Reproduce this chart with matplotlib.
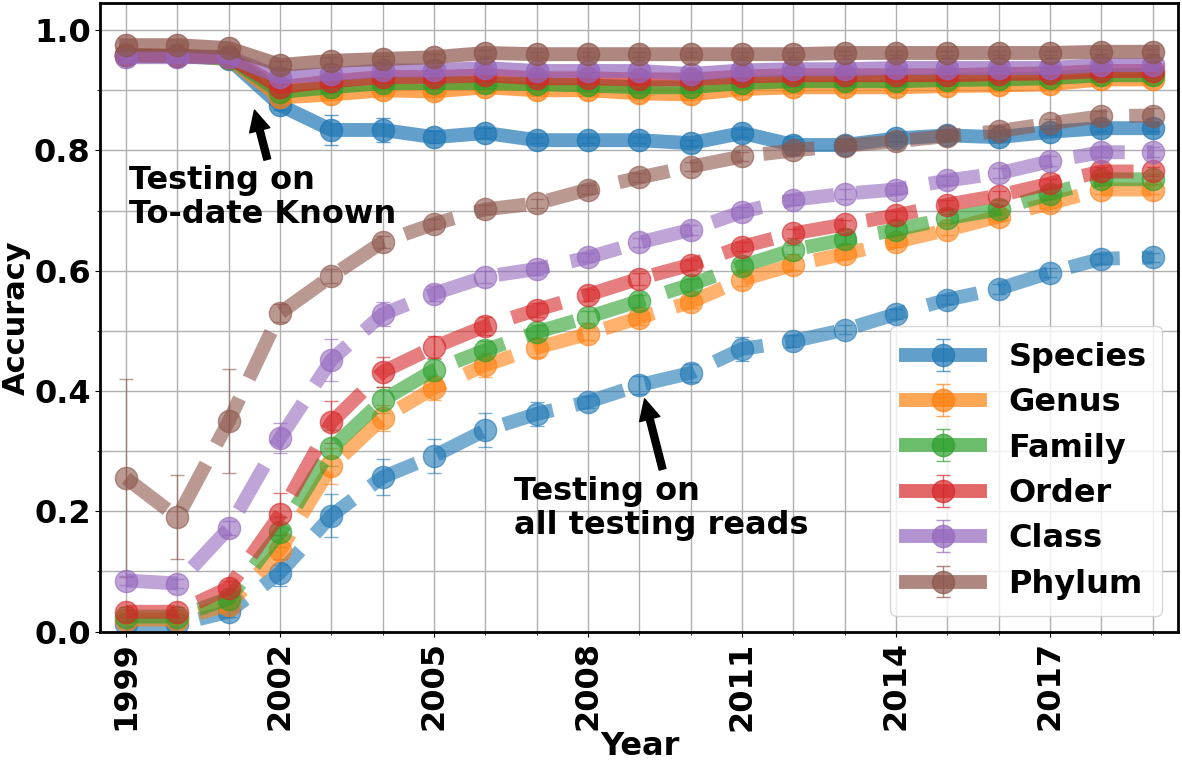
import numpy as np
import matplotlib
matplotlib.use('Agg')
import matplotlib.pyplot as plt

# Años y niveles taxonómicos
years = np.arange(1999, 2020)
ranks = ['Species', 'Genus', 'Family', 'Order', 'Class', 'Phylum']
colors = ['tab:blue', 'tab:orange', 'tab:green', 'tab:red', 'tab:purple', 'tab:brown']

# Testing on To-date Known (línea continua)
known_species = [0.958, 0.957, 0.952, 0.875, 0.834, 0.834, 0.822, 0.829, 0.817, 0.817, 0.817,
                 0.812, 0.829, 0.809, 0.809, 0.820, 0.825, 0.822, 0.831, 0.837, 0.837]
known_genus = [0.958, 0.957, 0.953, 0.888, 0.893, 0.900, 0.898, 0.905, 0.900, 0.900, 0.895,
               0.893, 0.902, 0.905, 0.905, 0.905, 0.907, 0.908, 0.910, 0.918, 0.918]
known_family = [0.958, 0.957, 0.954, 0.897, 0.905, 0.912, 0.912, 0.912, 0.910, 0.908, 0.905,
                0.905, 0.912, 0.915, 0.915, 0.915, 0.917, 0.918, 0.920, 0.925, 0.925]
known_order = [0.958, 0.957, 0.955, 0.905, 0.915, 0.922, 0.922, 0.925, 0.920, 0.920, 0.918,
               0.918, 0.923, 0.925, 0.925, 0.925, 0.925, 0.927, 0.928, 0.932, 0.932]
known_class = [0.955, 0.955, 0.955, 0.922, 0.927, 0.933, 0.933, 0.937, 0.932, 0.932, 0.932,
               0.927, 0.933, 0.935, 0.935, 0.937, 0.937, 0.937, 0.937, 0.942, 0.942]
known_phylum = [0.975, 0.975, 0.970, 0.942, 0.949, 0.952, 0.955, 0.962, 0.960, 0.960, 0.960,
                0.960, 0.960, 0.960, 0.962, 0.962, 0.962, 0.962, 0.962, 0.964, 0.964]

# Testing on all testing reads (línea discontinua)
all_species = [0.012, 0.012, 0.033, 0.098, 0.193, 0.257, 0.292, 0.335, 0.362, 0.382, 0.410,
               0.430, 0.470, 0.483, 0.502, 0.528, 0.552, 0.570, 0.597, 0.620, 0.622]
all_genus = [0.020, 0.020, 0.045, 0.135, 0.275, 0.355, 0.405, 0.443, 0.472, 0.495, 0.522,
             0.548, 0.585, 0.610, 0.628, 0.648, 0.668, 0.690, 0.712, 0.735, 0.735]
all_family = [0.025, 0.025, 0.055, 0.165, 0.305, 0.385, 0.435, 0.468, 0.498, 0.523, 0.550,
              0.577, 0.608, 0.635, 0.652, 0.668, 0.687, 0.702, 0.728, 0.752, 0.752]
all_order = [0.033, 0.033, 0.073, 0.195, 0.348, 0.432, 0.473, 0.508, 0.535, 0.560, 0.587,
             0.610, 0.640, 0.662, 0.677, 0.692, 0.710, 0.725, 0.745, 0.765, 0.765]
all_class = [0.085, 0.080, 0.172, 0.322, 0.452, 0.528, 0.562, 0.590, 0.603, 0.622, 0.647,
             0.668, 0.698, 0.718, 0.728, 0.735, 0.750, 0.762, 0.782, 0.797, 0.797]
all_phylum = [0.255, 0.190, 0.350, 0.530, 0.591, 0.648, 0.678, 0.702, 0.712, 0.735, 0.755,
              0.773, 0.790, 0.800, 0.808, 0.815, 0.824, 0.832, 0.845, 0.857, 0.858]

# Barras de error (desviación)
err_known_species = [0.002, 0.002, 0.003, 0.008, 0.025, 0.020, 0.010, 0.008, 0.005, 0.005, 0.005,
                     0.005, 0.006, 0.015, 0.005, 0.005, 0.005, 0.005, 0.005, 0.005, 0.005]
err_known_small = [0.002, 0.002, 0.003, 0.006, 0.006, 0.005, 0.005, 0.005, 0.004, 0.004, 0.004,
                   0.004, 0.004, 0.004, 0.004, 0.004, 0.004, 0.004, 0.004, 0.004, 0.004]
err_all_species = [0.005, 0.005, 0.008, 0.022, 0.035, 0.030, 0.028, 0.028, 0.020, 0.010, 0.015,
                   0.015, 0.020, 0.010, 0.008, 0.008, 0.008, 0.008, 0.008, 0.008, 0.008]
err_all_genus = [0.005, 0.005, 0.010, 0.025, 0.030, 0.022, 0.020, 0.020, 0.015, 0.010, 0.012,
                 0.010, 0.010, 0.008, 0.008, 0.008, 0.008, 0.008, 0.008, 0.008, 0.008]
err_all_family = [0.005, 0.005, 0.010, 0.025, 0.030, 0.022, 0.018, 0.015, 0.012, 0.010, 0.010,
                  0.010, 0.010, 0.008, 0.008, 0.008, 0.008, 0.008, 0.008, 0.008, 0.008]
err_all_order = [0.008, 0.008, 0.012, 0.035, 0.035, 0.025, 0.018, 0.015, 0.012, 0.010, 0.010,
                 0.008, 0.008, 0.008, 0.008, 0.008, 0.008, 0.008, 0.008, 0.008, 0.008]
err_all_class = [0.008, 0.008, 0.012, 0.025, 0.035, 0.020, 0.012, 0.010, 0.010, 0.008, 0.008,
                 0.008, 0.008, 0.008, 0.008, 0.008, 0.008, 0.008, 0.008, 0.008, 0.008]
err_all_phylum = [0.165, 0.070, 0.087, 0.015, 0.012, 0.010, 0.008, 0.008, 0.008, 0.008, 0.008,
                  0.008, 0.008, 0.008, 0.008, 0.008, 0.008, 0.008, 0.008, 0.008, 0.012]

known = [known_species, known_genus, known_family, known_order, known_class, known_phylum]
known_err = [err_known_species] + [err_known_small] * 5
todos = [all_species, all_genus, all_family, all_order, all_class, all_phylum]
todos_err = [err_all_species, err_all_genus, err_all_family, err_all_order, err_all_class, err_all_phylum]

plt.rcParams['font.weight'] = 'bold'
plt.rcParams['font.size'] = 23

fig, ax = plt.subplots(figsize=(11.82, 7.61), dpi=100)

for i, rank in enumerate(ranks):
    ax.errorbar(years, known[i], yerr=known_err[i], color=colors[i], linestyle='-',
                linewidth=10, marker='o', markersize=16, capsize=5, elinewidth=1,
                alpha=0.7, label=rank)
    ax.errorbar(years, todos[i], yerr=todos_err[i], color=colors[i], linestyle='--',
                linewidth=10, marker='o', markersize=16, capsize=5, elinewidth=1,
                alpha=0.6)

ax.annotate('', xy=(2001.5, 0.867), xytext=(2001.75, 0.785),
            arrowprops=dict(facecolor='black', edgecolor='black', width=5, headwidth=15, headlength=15))
ax.text(1999.05, 0.775, 'Testing on\nTo-date Known', fontsize=23, fontweight='bold',
        va='top', ha='left', linespacing=1.1)

ax.annotate('', xy=(2009.1, 0.387), xytext=(2009.45, 0.27),
            arrowprops=dict(facecolor='black', edgecolor='black', width=5, headwidth=15, headlength=15))
ax.text(2006.55, 0.258, 'Testing on\nall testing reads', fontsize=23, fontweight='bold',
        va='top', ha='left', linespacing=1.1)

ax.set_xlim(1998.5, 2019.5)
ax.set_ylim(0, 1.045)
ax.set_xticks(years[::3])
ax.set_xticks(years, minor=True)
ax.set_yticks(np.arange(0, 1.01, 0.2))
ax.set_yticks(np.arange(0.1, 1.0, 0.2), minor=True)
ax.grid(True, which='both', color='#b0b0b0', linewidth=1)
ax.set_axisbelow(True)
plt.setp(ax.get_xticklabels(), rotation=90)
ax.tick_params(axis='both', which='major', labelsize=23)
for s in ax.spines.values():
    s.set_linewidth(2)

ax.set_xlabel('Year', fontsize=23, fontweight='bold', labelpad=0)
ax.set_ylabel('Accuracy', fontsize=22, fontweight='bold', labelpad=2)
ax.legend(loc='lower right', fontsize=23, handlelength=2.3, labelspacing=0.45,
          borderpad=0.5, handletextpad=0.9)

plt.subplots_adjust(left=0.085, right=0.997, top=0.996, bottom=0.17)
plt.savefig('out.png')
